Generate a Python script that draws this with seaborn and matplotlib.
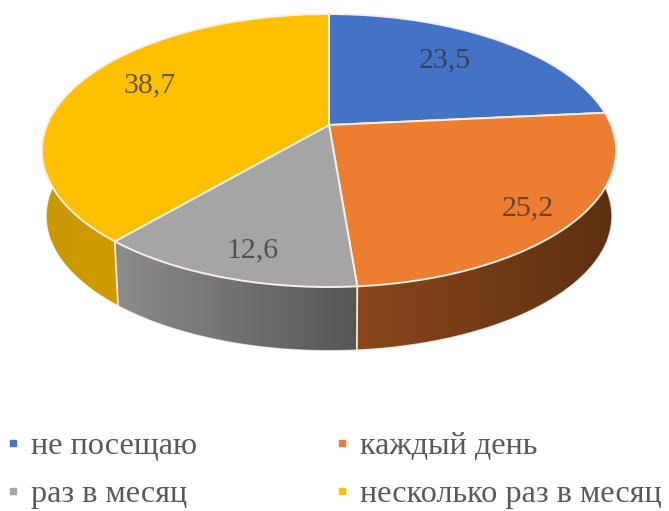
import numpy as np
import matplotlib
matplotlib.use('Agg')
import matplotlib.pyplot as plt
from matplotlib.colors import LinearSegmentedColormap
from matplotlib.lines import Line2D
from matplotlib.patches import Polygon
import seaborn as sns

# --- DATA ---
categories = ['не посещаю', 'каждый день', 'раз в месяц', 'несколько раз в месяц']
values = [23.5, 25.2, 12.6, 38.7]
value_labels = ['23,5', '25,2', '12,6', '38,7']

top_colors = ['#4472C4', '#ED7D31', '#A5A5A5', '#FFC000']
wall_left = ['#2F4F88', '#8A471B', '#8C8C8C', '#C99700']
wall_right = ['#2F4F88', '#5C2F10', '#565656', '#DDA700']
label_pos = [(445, 60), (528, 208), (252, 250), (150, 85)]

sns.set_theme(style='white')
plt.rcParams['font.family'] = ['Liberation Serif', 'DejaVu Serif']
palette = sns.color_palette(top_colors)

fig, ax = plt.subplots(figsize=(6.69, 5.11), dpi=100)
ax.set_position([0, 0, 1, 1])
ax.axis('off')

# pie geometry, in pixels
cx, cy = 329, 125
tilt, rx, ry = 0.187, 282, 131.7
depth, shrink = 66, 0.985


def rim(theta, lower=False):
    # perspective view of the disc, theta clockwise from the top
    w = 1 + tilt * np.cos(theta)
    x = rx * np.sin(theta) / w
    y = ry * np.cos(theta) / w
    if lower:
        return cx + x * shrink, cy - y * shrink + depth
    return cx + x, cy - y


edges = np.radians(np.concatenate([[0], np.cumsum(values)]) * 3.6)

# side walls first, gradient clipped to each wedge
for i in range(len(values)):
    th = np.linspace(edges[i], edges[i + 1], 120)
    xt, yt = rim(th)
    xb, yb = rim(th, lower=True)
    pts = np.column_stack([np.r_[xt, xb[::-1]], np.r_[yt, yb[::-1]]])
    wall = Polygon(pts, closed=True, facecolor='none', edgecolor='none')
    ax.add_patch(wall)
    cmap = LinearSegmentedColormap.from_list('wall', [wall_left[i], wall_right[i]])
    img = ax.imshow(np.linspace(0, 1, 256)[None, :], cmap=cmap, aspect='auto',
                    extent=[pts[:, 0].min(), pts[:, 0].max(), 511, 0], zorder=1)
    img.set_clip_path(wall)
    ax.plot(xb, yb, color='white', lw=0.8, alpha=0.6, zorder=1.5)

# light seams at the front edges of the wall
for e in edges:
    xt, yt = rim(e)
    xb, yb = rim(e, lower=True)
    if yb > yt and np.sin(e) != 0 and np.cos(e) < 0:
        ax.plot([xt, xb], [yt, yb], color='#FBE9D0', lw=1.3, zorder=2)

# top face
for i in range(len(values)):
    th = np.linspace(edges[i], edges[i + 1], 120)
    xt, yt = rim(th)
    pts = np.column_stack([np.r_[cx, xt], np.r_[cy, yt]])
    ax.add_patch(Polygon(pts, closed=True, facecolor=palette[i],
                         edgecolor='#F6EFE6', lw=1.4, joinstyle='round', zorder=3))
    ax.text(label_pos[i][0], label_pos[i][1], value_labels[i], fontsize=21.5,
            color='#303030', alpha=0.72, ha='center', va='center', zorder=4)

ax.set_xlim(0, 669)
ax.set_ylim(511, 0)

# --- LEGEND ---
order = [0, 2, 1, 3]
handles = [Line2D([], [], linestyle='none', marker='s', markersize=5, color=palette[i],
                  label=categories[i]) for i in order]
ax.legend(handles=handles, ncol=2, loc='upper left', bbox_to_anchor=(0.0097, 0.155),
          frameon=False, fontsize=23.2, labelcolor='#595959', borderpad=0, borderaxespad=0,
          handlelength=0.4, handletextpad=0.35, labelspacing=0.57, columnspacing=4.32)

fig.savefig('out.png', dpi=100)
